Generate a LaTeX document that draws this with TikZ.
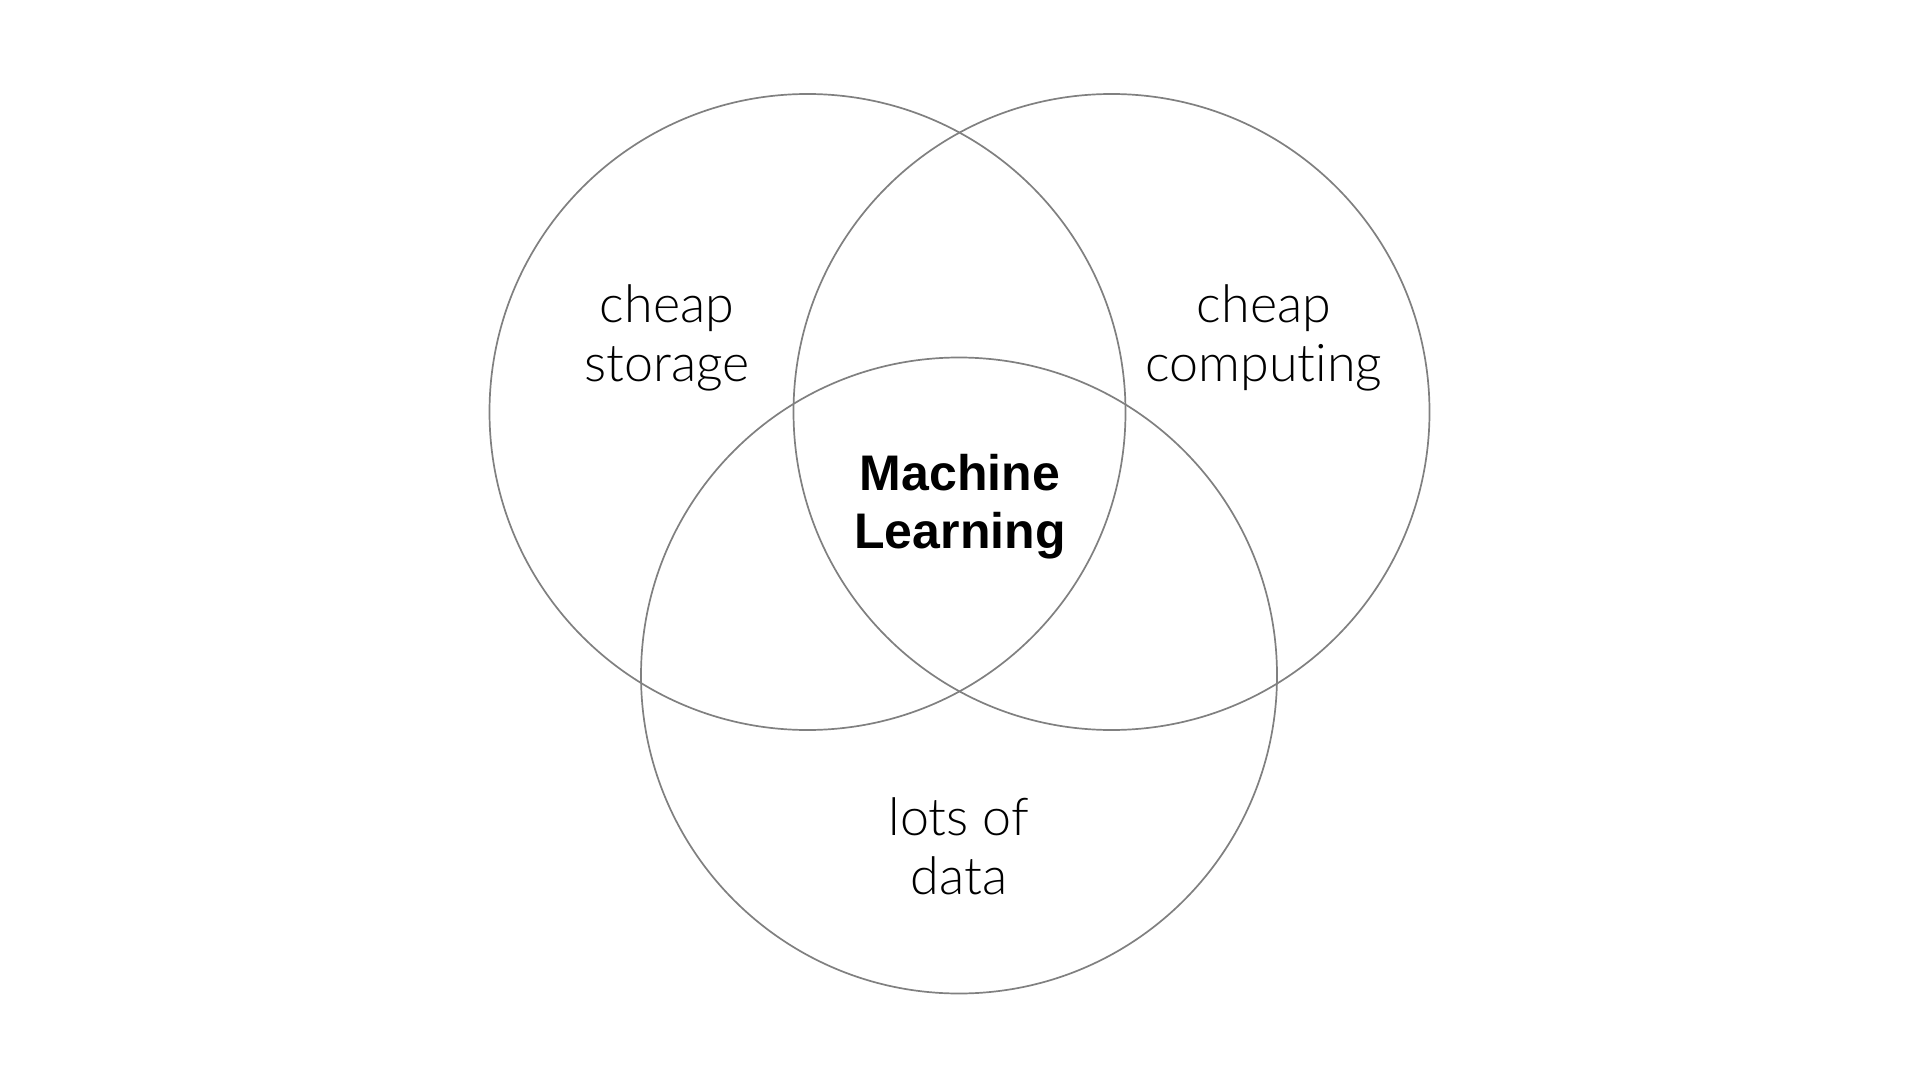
\documentclass[tikz,border=0pt]{standalone}
\usepackage{fontspec}
\setmainfont{Liberation Sans}
\newfontfamily\lightfont{Lato Light}[Ligatures=NoCommon]
\newfontfamily\boldfont{Liberation Sans Bold}
\begin{document}
\begin{tikzpicture}[x=0.5pt,y=-0.5pt,
  venn/.style={draw=black!50,line width=0.85pt},
  lbl/.style={font=\lightfont\fontsize{26}{29.5}\selectfont,align=center,anchor=base,inner sep=0pt},
  mlbl/.style={font=\boldfont\fontsize{25}{29}\selectfont,align=center,anchor=base,inner sep=0pt}]
\useasboundingbox[fill=white] (0,0) rectangle (1920,1080);
\draw[venn] (807.5,412) circle[radius=318];
\draw[venn] (1111.5,412) circle[radius=318];
\draw[venn] (959,675.5) circle[radius=318];
\node[lbl] (storage) at (667,381) {cheap\\storage};
\node[lbl] (computing) at (1264,381) {cheap\\computing};
\node[mlbl] (ml) at (960,548) {Machine\\Learning};
\node[lbl] (data) at (959,894) {lots of\\data};
\end{tikzpicture}
\end{document}
